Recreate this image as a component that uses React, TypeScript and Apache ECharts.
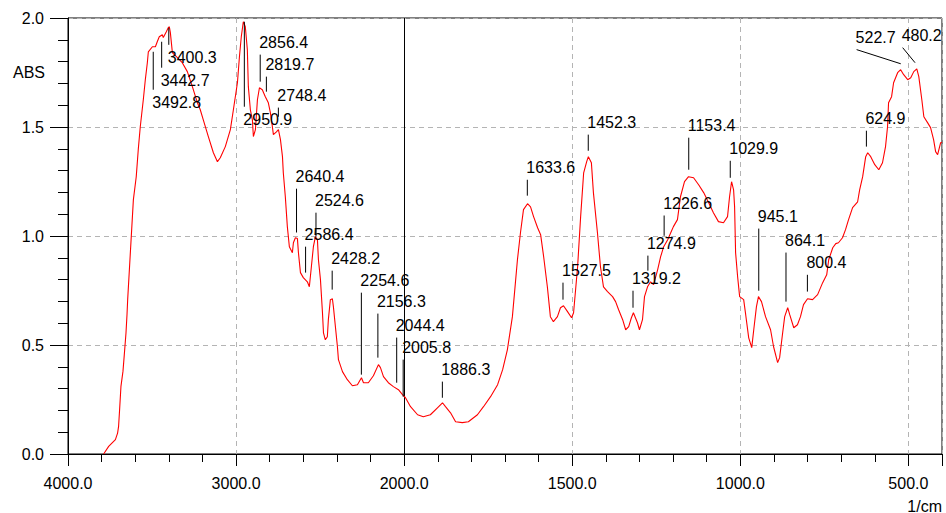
import React, { useEffect, useRef } from "react";
import * as echarts from "echarts";

// ---- scale: split wavenumber axis (4000-2000 compressed, 2000-400 expanded) ----
const WN_START = 4000;
const WN_SPLIT = 2000;
const WN_END = 400;
const STEP_HIGH = 200; // cm-1 per minor tick above the split
const STEP_LOW = 100; // cm-1 per minor tick below the split

const toU = (wn: number) =>
  wn >= WN_SPLIT ? (WN_START - wn) / STEP_HIGH : (WN_START - WN_SPLIT) / STEP_HIGH + (WN_SPLIT - wn) / STEP_LOW;
const U_SPLIT = toU(WN_SPLIT);
const fromU = (u: number) =>
  u <= U_SPLIT ? WN_START - u * STEP_HIGH : WN_SPLIT - (u - U_SPLIT) * STEP_LOW;

const yTicks = { min: 0, max: 2.0, major: 0.5 };

// ---- spectrum: [wavenumber (1/cm), absorbance] ----
const spectrum: [number, number][] = [
  [3788, 0], [3758, 0.035], [3718, 0.066], [3705, 0.096], [3699, 0.127], [3693, 0.203],
  [3685, 0.31], [3673, 0.379], [3665, 0.456], [3655, 0.555], [3649, 0.639], [3645, 0.708],
  [3611, 1.167], [3594, 1.272], [3582, 1.396], [3570, 1.501], [3552, 1.625], [3540, 1.717],
  [3528, 1.795], [3522, 1.845], [3498, 1.868], [3480, 1.868], [3469, 1.891], [3457, 1.914],
  [3439, 1.923], [3433, 1.91], [3415, 1.937], [3403, 1.956], [3397, 1.96], [3391, 1.933],
  [3379, 1.841], [3349, 1.818], [3320, 1.795], [3290, 1.754], [3260, 1.685], [3230, 1.611],
  [3213, 1.579], [3195, 1.533], [3165, 1.456], [3135, 1.382], [3111, 1.341], [3094, 1.359],
  [3064, 1.41], [3034, 1.488], [3016, 1.579], [2992, 1.703], [2980, 1.822], [2969, 1.914],
  [2957, 1.983], [2945, 1.96], [2933, 1.855], [2927, 1.685], [2915, 1.579], [2903, 1.533],
  [2897, 1.456], [2885, 1.488], [2873, 1.625], [2861, 1.68], [2844, 1.671], [2826, 1.639],
  [2808, 1.611], [2796, 1.566], [2784, 1.501], [2778, 1.465], [2760, 1.478], [2748, 1.488],
  [2736, 1.442], [2724, 1.364], [2719, 1.29], [2707, 1.18], [2695, 1.043], [2683, 0.951],
  [2665, 0.923], [2659, 0.969], [2647, 0.992], [2635, 0.988], [2629, 0.923], [2617, 0.832],
  [2600, 0.809], [2576, 0.79], [2564, 0.767], [2552, 0.859], [2540, 0.951], [2528, 0.997],
  [2516, 0.983], [2510, 0.891], [2498, 0.8], [2486, 0.648], [2480, 0.556], [2469, 0.524],
  [2457, 0.538], [2451, 0.616], [2439, 0.708], [2427, 0.712], [2421, 0.676], [2409, 0.584],
  [2397, 0.492], [2391, 0.433], [2367, 0.378], [2338, 0.341], [2308, 0.313], [2278, 0.318],
  [2254, 0.35], [2242, 0.327], [2213, 0.327], [2183, 0.359], [2153, 0.41], [2141, 0.396],
  [2123, 0.355], [2094, 0.327], [2064, 0.309], [2034, 0.295], [2010, 0.272], [1996, 0.258],
  [1981, 0.217], [1960, 0.18], [1943, 0.171], [1922, 0.18], [1901, 0.212], [1886, 0.235],
  [1877, 0.217], [1862, 0.189], [1847, 0.148], [1827, 0.144], [1809, 0.148], [1782, 0.18],
  [1764, 0.217], [1743, 0.263], [1722, 0.318], [1707, 0.387], [1693, 0.478], [1678, 0.63],
  [1669, 0.786], [1663, 0.891], [1654, 1.015], [1645, 1.121], [1633, 1.148], [1624, 1.134],
  [1615, 1.089], [1603, 1.038], [1594, 1.006], [1585, 0.905], [1574, 0.767], [1565, 0.63],
  [1556, 0.607], [1544, 0.63], [1535, 0.671], [1526, 0.68], [1514, 0.653], [1502, 0.625],
  [1496, 0.648], [1484, 0.859], [1475, 1.089], [1466, 1.29], [1457, 1.341], [1452, 1.364],
  [1443, 1.336], [1437, 1.199], [1425, 1.015], [1416, 0.859], [1407, 0.767], [1395, 0.745],
  [1380, 0.722], [1371, 0.699], [1362, 0.662], [1350, 0.616], [1341, 0.57], [1332, 0.584],
  [1324, 0.625], [1318, 0.648], [1306, 0.602], [1300, 0.57], [1291, 0.616], [1285, 0.722],
  [1276, 0.767], [1267, 0.79], [1258, 0.777], [1246, 0.845], [1237, 0.905], [1228, 0.951],
  [1216, 0.983], [1207, 1.015], [1199, 1.043], [1187, 1.075], [1178, 1.18], [1166, 1.249],
  [1154, 1.272], [1139, 1.267], [1124, 1.235], [1109, 1.199], [1094, 1.153], [1080, 1.107],
  [1065, 1.066], [1050, 1.061], [1038, 1.089], [1032, 1.18], [1026, 1.249], [1020, 1.212],
  [1017, 1.134], [1014, 0.923], [1008, 0.813], [1002, 0.722], [990, 0.708], [984, 0.639],
  [975, 0.533], [966, 0.488], [960, 0.57], [952, 0.676], [946, 0.722], [937, 0.699],
  [925, 0.63], [910, 0.57], [901, 0.492], [889, 0.419], [883, 0.442], [874, 0.556],
  [868, 0.63], [859, 0.671], [853, 0.639], [841, 0.579], [830, 0.593], [821, 0.63],
  [812, 0.685], [800, 0.712], [785, 0.708], [770, 0.731], [755, 0.786], [743, 0.822],
  [737, 0.891], [725, 0.946], [716, 0.965], [708, 0.969], [696, 0.992], [687, 1.029],
  [678, 1.075], [666, 1.13], [651, 1.157], [645, 1.212], [636, 1.272], [627, 1.364],
  [621, 1.382], [612, 1.364], [600, 1.327], [588, 1.304], [577, 1.336], [568, 1.41],
  [562, 1.501], [559, 1.611], [550, 1.639], [544, 1.703], [532, 1.749], [523, 1.763],
  [514, 1.74], [502, 1.717], [493, 1.726], [484, 1.754], [475, 1.767], [469, 1.731],
  [460, 1.625], [454, 1.547], [443, 1.52], [434, 1.497], [425, 1.442], [419, 1.387],
  [413, 1.373], [404, 1.428], [400, 1.43],
];

// ---- peak annotations ----
const peakWavenumbers = [
  3492.8, 3442.7, 3400.3, 2950.9, 2856.4, 2819.7, 2748.4, 2640.4, 2586.4, 2524.6,
  2428.2, 2254.6, 2156.3, 2044.4, 2005.8, 1886.3, 1633.6, 1527.5, 1452.3, 1319.2,
  1274.9, 1226.6, 1153.4, 1029.9, 945.1, 864.1, 800.4, 624.9, 522.7, 480.2,
];
// absorbance where each leader line ends next to the curve
const leaderCurveAbs = [
  1.845, 1.891, 1.955, 1.983, 1.708, 1.662, 1.547, 1.016, 0.832, 0.997,
  0.754, 0.364, 0.442, 0.327, 0.263, 0.258, 1.185, 0.708, 1.391, 0.671,
  0.841, 1.001, 1.304, 1.267, 0.749, 0.699, 0.745, 1.41, 1.79, 1.795,
];
// absorbance where each leader line meets its label
const leaderLabelAbs = [
  1.671, 1.772, 1.877, 1.593, 1.832, 1.731, 1.589, 1.217, 0.951, 1.107,
  0.841, 0.74, 0.644, 0.534, 0.433, 0.332, 1.258, 0.786, 1.465, 0.749,
  0.91, 1.094, 1.451, 1.345, 1.034, 0.924, 0.822, 1.483, 1.855, 1.864,
];
// wavenumber of the label end of the leader (null = vertical leader)
const leaderLabelWn: (number | null)[] = [
  null, null, null, null, null, null, null, null, null, null,
  null, null, null, null, null, null, null, null, null, null,
  null, null, null, null, null, null, null, null, 654, 517,
];

const FONT = '"Liberation Sans", Arial, Helvetica, sans-serif';

export default function App() {
  const ref = useRef<HTMLDivElement>(null);

  useEffect(() => {
    if (!ref.current) return;
    const chart = echarts.init(ref.current, undefined, { renderer: "svg" });

    const uMax = toU(WN_END);
    const lineData = spectrum.map(([wn, a]) => [toU(wn), a]);
    const annData = peakWavenumbers.map((wn, i) => [
      toU(wn),
      leaderCurveAbs[i],
      toU(leaderLabelWn[i] ?? wn),
      leaderLabelAbs[i],
    ]);

    const axisColor = "#000";
    const dashed = { type: [5, 4] as any, color: "#b4b4b4", width: 1 };

    chart.setOption({
      animation: false,
      backgroundColor: "#fff",
      grid: {
        left: 68,
        top: 18,
        right: 4,
        bottom: 59,
        show: true,
        borderColor: axisColor,
        borderWidth: 1,
        backgroundColor: "transparent",
      },
      xAxis: [
        {
          type: "value",
          min: 0,
          max: uMax,
          interval: 1,
          axisLine: { show: true, onZero: false, lineStyle: { color: axisColor, width: 1 } },
          axisTick: { show: true, length: 8, lineStyle: { color: axisColor, width: 1 } },
          axisLabel: { show: false },
          splitLine: { show: false },
        },
        {
          type: "value",
          min: 0,
          max: uMax,
          interval: 5,
          position: "bottom",
          axisLine: { show: false, onZero: false },
          axisTick: { show: true, length: 12, lineStyle: { color: axisColor, width: 1 } },
          axisLabel: {
            show: true,
            margin: 21,
            fontSize: 16,
            fontFamily: FONT,
            color: "#000",
            formatter: (v: number) => (Math.abs(v % 5) < 1e-6 ? fromU(v).toFixed(1) : ""),
          },
          splitLine: { show: true, lineStyle: dashed },
        },
      ],
      yAxis: {
        type: "value",
        min: yTicks.min,
        max: yTicks.max,
        interval: yTicks.major,
        axisLine: { show: true, onZero: false, lineStyle: { color: axisColor, width: 1 } },
        axisTick: { show: true, length: 18, lineStyle: { color: axisColor, width: 1 } },
        minorTick: { show: true, splitNumber: 5, length: 10, lineStyle: { color: axisColor, width: 1 } },
        axisLabel: {
          margin: 24,
          fontSize: 16,
          fontFamily: FONT,
          color: "#000",
          formatter: (v: number) => v.toFixed(1),
        },
        splitLine: { show: true, lineStyle: dashed },
      },
      graphic: [
        {
          type: "text",
          left: 13,
          top: 64,
          style: { text: "ABS", font: `16px ${FONT}`, fill: "#000" },
        },
        {
          type: "text",
          right: 4,
          top: 498,
          style: { text: "1/cm", font: `16px ${FONT}`, fill: "#000" },
        },
      ],
      series: [
        {
          type: "line",
          xAxisIndex: 0,
          data: lineData,
          showSymbol: false,
          symbol: "none",
          smooth: false,
          lineStyle: { color: "#ff0000", width: 1.1 },
          silent: true,
          z: 3,
          markLine: {
            silent: true,
            symbol: "none",
            label: { show: false },
            lineStyle: { color: "#000", type: "solid", width: 1 },
            data: [{ xAxis: U_SPLIT }],
            z: 2,
          },
        },
        {
          type: "custom",
          xAxisIndex: 0,
          coordinateSystem: "cartesian2d",
          silent: true,
          z: 4,
          clip: false,
          data: annData,
          renderItem: (params: any, api: any) => {
            const p1 = api.coord([api.value(0), api.value(1)]);
            const p2 = api.coord([api.value(2), api.value(3)]);
            const above = api.value(3) > api.value(1);
            const label = peakWavenumbers[params.dataIndex].toFixed(1);
            return {
              type: "group",
              children: [
                {
                  type: "line",
                  shape: { x1: p1[0], y1: p1[1], x2: p2[0], y2: p2[1] },
                  style: { stroke: "#000", lineWidth: 1 },
                },
                {
                  type: "text",
                  x: p2[0] - 1,
                  y: above ? p2[1] - 12.5 : p2[1] + 12.5,
                  style: {
                    text: label,
                    fill: "#000",
                    font: `16px ${FONT}`,
                    textAlign: "left",
                    textVerticalAlign: "middle",
                  },
                },
              ],
            };
          },
        },
      ],
    });

    return () => chart.dispose();
  }, []);

  return (
    <div
      ref={ref}
      style={{ position: "absolute", left: 0, top: 0, width: 946, height: 513 }}
    />
  );
}
